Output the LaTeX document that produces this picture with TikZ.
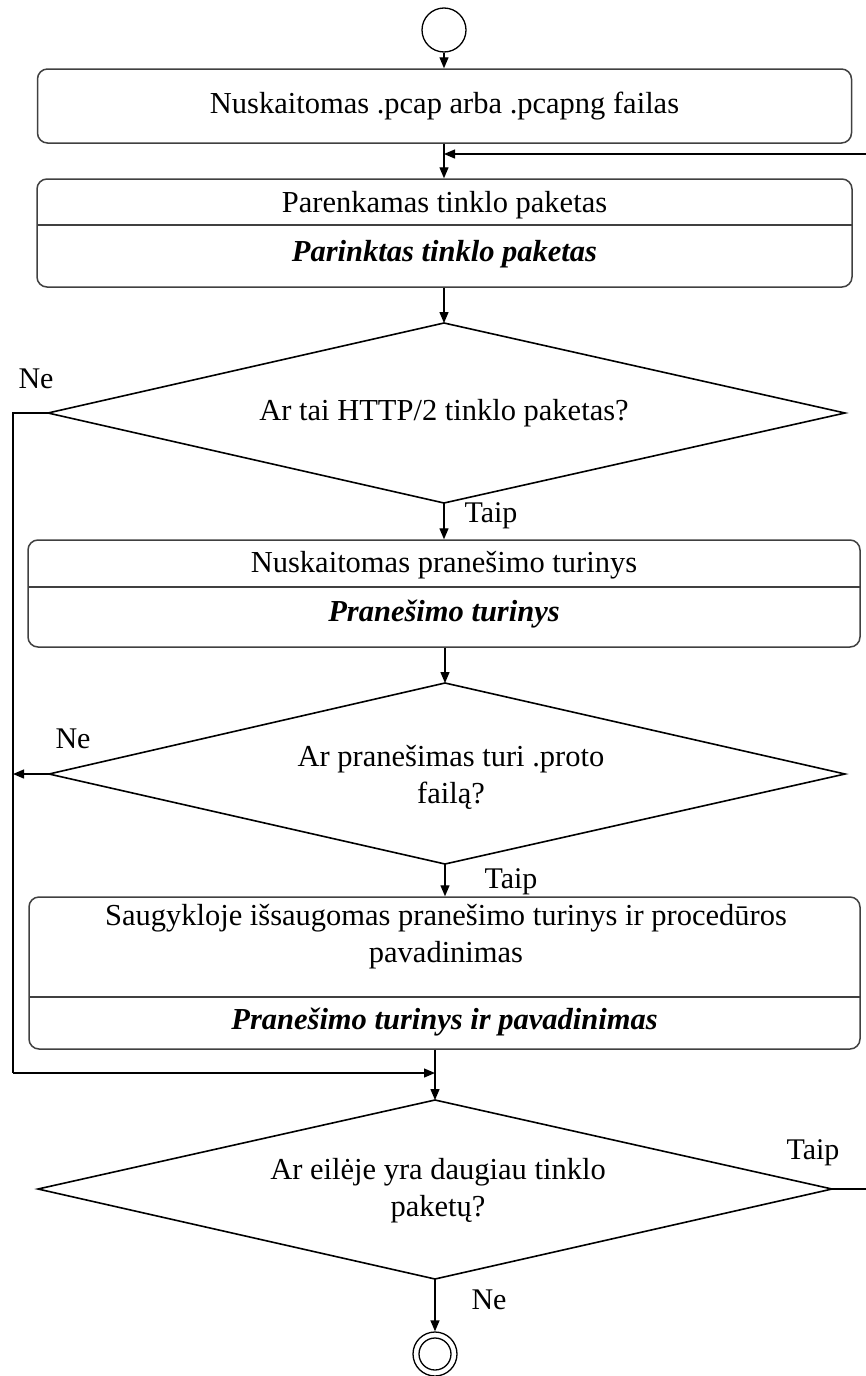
\documentclass[tikz,border=0pt]{standalone}
\usepackage{fontspec}
\setmainfont{Liberation Serif}
\usetikzlibrary{arrows.meta}
\begin{document}
\begin{tikzpicture}[x=1pt,y=-1pt,
  conn/.style={line width=1.3pt, draw=black},
  flow/.style={conn, -{Triangle[length=11pt,width=9pt]}},
  stepbox/.style={draw=black!75, line width=1.5pt, rounded corners=10pt, inner sep=0pt},
  divider/.style={draw=black!75, line width=1.5pt},
  decision/.style={draw=black, line width=1.6pt},
  txt/.style={font=\fontsize{30.5}{37}\selectfont, inner sep=0pt, align=center},
  btxt/.style={txt, font=\fontsize{30.5}{37}\selectfont\bfseries\itshape},
  lbl/.style={font=\fontsize{30}{36}\selectfont, inner sep=0pt}]
\useasboundingbox (0,0) rectangle (866,1376);

% start and end states
\node[circle, draw, line width=1.3pt, minimum size=44pt, inner sep=0pt] (start) at (444,30) {};
\node[circle, draw, line width=1.3pt, minimum size=44pt, inner sep=0pt] (final) at (435,1354) {};
\node[circle, draw, line width=1.3pt, minimum size=32pt, inner sep=0pt] (finalin) at (435,1354) {};

% action boxes
\node[stepbox, minimum width=814pt, minimum height=74pt] (b1) at (444.5,106) {};
\node[txt] (b1t) at (b1.center) {Nuskaitomas .pcap arba .pcapng failas};

\node[stepbox, minimum width=815pt, minimum height=108pt] (b2) at (444.5,233) {};
\draw[divider] (37,225) -- (852,225);
\node[txt] (b2t) at (444.5,205) {Parenkamas tinklo paketas};
\node[btxt] (b2o) at (444.5,254) {Parinktas tinklo paketas};

\node[stepbox, minimum width=832pt, minimum height=107pt] (b3) at (444,593.5) {};
\draw[divider] (28,587) -- (860,587);
\node[txt] (b3t) at (444,565) {Nuskaitomas pranešimo turinys};
\node[btxt] (b3o) at (444,614) {Pranešimo turinys};

\node[stepbox, minimum width=831pt, minimum height=152pt] (b4) at (444.5,973) {};
\draw[divider] (29,997) -- (860,997);
\node[txt] (b4t) at (446,937) {Saugykloje išsaugomas pranešimo turinys ir procedūros\\pavadinimas};
\node[btxt] (b4o) at (444.5,1022) {Pranešimo turinys ir pavadinimas};

% decisions
\coordinate (d1n) at (444,323); \coordinate (d1e) at (845,413);
\coordinate (d1s) at (444,503); \coordinate (d1w) at (48,413);
\draw[decision] (d1n) -- (d1e) -- (d1s) -- (d1w) -- cycle;
\node[txt] (d1) at (444,413) {Ar tai HTTP/2 tinklo paketas?};

\coordinate (d2n) at (445,683); \coordinate (d2e) at (845,774);
\coordinate (d2s) at (445,864); \coordinate (d2w) at (49,774);
\draw[decision] (d2n) -- (d2e) -- (d2s) -- (d2w) -- cycle;
\node[txt] (d2) at (451,777) {Ar pranešimas turi .proto\\failą?};

\coordinate (d3n) at (435,1100); \coordinate (d3e) at (832,1189);
\coordinate (d3s) at (435,1279); \coordinate (d3w) at (38,1189);
\draw[decision] (d3n) -- (d3e) -- (d3s) -- (d3w) -- cycle;
\node[txt] (d3) at (438,1191) {Ar eilėje yra daugiau tinklo\\paketų?};

% connectors
\coordinate (loopin) at (444,154);
\coordinate (loopR) at (866,154);
\coordinate (loopout) at (866,1189);
\coordinate (leftTop) at (13,413);
\coordinate (leftMid) at (13,774);
\coordinate (leftBot) at (13,1073);
\coordinate (merge) at (435,1073);

\draw[flow] (start) -- (b1.north -| start);
\draw[conn] (b1.south -| loopin) -- (loopin);
\draw[flow] (loopin) -- (b2.north -| loopin);
\draw[flow] (loopR) -- (loopin);
\draw[flow] (b2.south -| d1n) -- (d1n);
\draw[flow] (d1s) -- (b3.north -| d1s);
\draw[flow] (b3.south -| d2n) -- (d2n);
\draw[flow] (d2s) -- (b4.north -| d2s);
\draw[conn] (d1w) -- (leftTop) -- (leftBot);
\draw[flow] (d2w) -- (leftMid);
\draw[flow] (leftBot) -- (merge);
\draw[conn] (b4.south -| merge) -- (merge);
\draw[flow] (merge) -- (d3n);
\draw[conn] (d3e) -- (loopout);
\draw[flow] (d3s) -- (final);

% branch labels
\node[lbl] (l1) at (36,379) {Ne};
\node[lbl] (l2) at (491,516) {Taip};
\node[lbl] (l3) at (73,739) {Ne};
\node[lbl] (l4) at (511,882) {Taip};
\node[lbl] (l5) at (813,1153) {Taip};
\node[lbl] (l6) at (489,1300) {Ne};
\end{tikzpicture}
\end{document}
